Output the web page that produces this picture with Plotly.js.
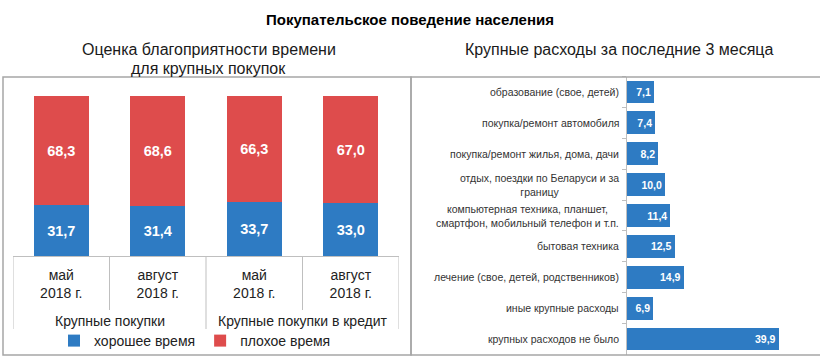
<!DOCTYPE html>
<html>
<head>
<meta charset="utf-8">
<script src="https://cdn.plot.ly/plotly-3.0.1.min.js"></script>
<style>html,body{margin:0;padding:0;background:#fff;}#chart{width:820px;height:357px;}</style>
</head>
<body>
<div id="chart"></div>
<script>
// ---- data ----
const groups = ["Крупные покупки", "Крупные покупки в кредит"];
const periods = ["май<br>2018 г.", "август<br>2018 г.", "май<br>2018 г.", "август<br>2018 г."];
const goodTime = [31.7, 31.4, 33.7, 33.0];
const badTime = [68.3, 68.6, 66.3, 67.0];
const seriesNames = ["хорошее время", "плохое время"];

const expenseCategories = [
  "образование (свое, детей)",
  "покупка/ремонт автомобиля",
  "покупка/ремонт жилья, дома, дачи",
  "отдых, поездки по Беларуси и за<br>границу",
  "компьютерная техника, планшет,<br>смартфон, мобильный телефон и т.п.",
  "бытовая техника",
  "лечение (свое, детей, родственников)",
  "иные крупные расходы",
  "крупных расходов не было"
];
const expenseValues = [7.1, 7.4, 8.2, 10.0, 11.4, 12.5, 14.9, 6.9, 39.9];

const mainTitle = "Покупательское поведение населения";
const leftTitle1 = "Оценка благоприятности времени";
const leftTitle2 = "для крупных покупок";
const rightTitle = "Крупные расходы за последние 3 месяца";

// ---- styling ----
const W = 820, H = 357;
const px = v => v / W;
const py = v => 1 - v / H;
const BLUE = "#2E7BC3";
const RED = "#DE4C4C";
const FONT = "Liberation Sans, Arial, sans-serif";
const GRID = "#bfbfbf";
const BOX = "#a6a6a6";

const xIdx = periods.map((_, i) => i);

const traces = [
  {
    type: "bar", name: seriesNames[0], x: xIdx, y: goodTime,
    xaxis: "x", yaxis: "y", width: 0.57,
    marker: {color: BLUE},
    texttemplate: "%{y:.1f}", textposition: "inside", insidetextanchor: "middle",
    textfont: {family: FONT, size: 14.5, color: "#fff", weight: "bold"},
    hoverinfo: "skip"
  },
  {
    type: "bar", name: seriesNames[1], x: xIdx, y: badTime,
    xaxis: "x", yaxis: "y", width: 0.57,
    marker: {color: RED},
    texttemplate: "%{y:.1f}", textposition: "inside", insidetextanchor: "middle",
    textfont: {family: FONT, size: 14.5, color: "#fff", weight: "bold"},
    hoverinfo: "skip"
  },
  {
    type: "bar", orientation: "h", name: "расходы", x: expenseValues, y: expenseCategories,
    xaxis: "x2", yaxis: "y2", width: 0.74, showlegend: false,
    marker: {color: BLUE},
    texttemplate: "%{x:.1f}", textposition: "inside", insidetextanchor: "end",
    textfont: {family: FONT, size: 10.5, color: "#fff", weight: "bold"},
    hoverinfo: "skip"
  }
];

const annotations = [
  {text: "<b>" + mainTitle + "</b>", xref: "paper", yref: "paper", x: px(410), y: py(19), showarrow: false,
   xanchor: "center", yanchor: "middle", font: {family: FONT, size: 15, color: "#000"}},
  {text: leftTitle1, xref: "paper", yref: "paper", x: px(208.5), y: py(50), showarrow: false,
   xanchor: "center", yanchor: "middle", font: {family: FONT, size: 16, color: "#1a1a1a"}},
  {text: leftTitle2, xref: "paper", yref: "paper", x: px(208.5), y: py(68), showarrow: false,
   xanchor: "center", yanchor: "middle", font: {family: FONT, size: 16, color: "#1a1a1a"}},
  {text: rightTitle, xref: "paper", yref: "paper", x: px(619), y: py(50), showarrow: false,
   xanchor: "center", yanchor: "middle", font: {family: FONT, size: 16, color: "#1a1a1a"}}
];
// group labels centred under each pair of periods
groups.forEach((g, gi) => {
  annotations.push({text: g, xref: "x", yref: "paper", x: gi * 2 + 0.5, y: py(321), showarrow: false,
    xanchor: "center", yanchor: "middle", font: {family: FONT, size: 14, color: "#222"}});
});
expenseCategories.forEach(c => {
  annotations.push({text: c, xref: "paper", yref: "y2", x: px(621), y: c, showarrow: false,
    xanchor: "right", yanchor: "middle", align: "center",
    font: {family: FONT, size: 10.5, color: "#333"}});
});

const shapes = [
  {type: "rect", xref: "paper", yref: "paper", x0: px(3), x1: px(411), y0: py(355), y1: py(77),
   line: {color: BOX, width: 1.5}},
  {type: "rect", xref: "paper", yref: "paper", x0: px(411), x1: px(830), y0: py(355), y1: py(77),
   line: {color: BOX, width: 1.5}}
];
// category table separators (between periods; longer at group edges)
for (let b = 0; b <= periods.length; b++) {
  const isGroupEdge = b % 2 === 0;
  shapes.push({type: "line", xref: "x", yref: "paper", x0: b - 0.5, x1: b - 0.5,
    y0: py(256), y1: py(isGroupEdge ? 329 : 310), line: {color: GRID, width: 1}});
}

const layout = {
  width: W, height: H,
  margin: {l: 0, r: 0, t: 0, b: 0},
  paper_bgcolor: "#fff", plot_bgcolor: "rgba(0,0,0,0)",
  barmode: "stack",
  separators: ", ",
  font: {family: FONT, color: "#222"},
  showlegend: true,
  legend: {orientation: "h", x: px(195), xanchor: "center", y: py(341), yanchor: "middle",
           font: {family: FONT, size: 14, color: "#222"}, itemwidth: 30, traceorder: "normal",
           bgcolor: "rgba(0,0,0,0)"},
  xaxis: {
    domain: [px(13), px(399)], range: [-0.5, periods.length - 0.5],
    tickvals: xIdx, ticktext: periods, ticks: "", ticklabelstandoff: 6,
    showline: true, linecolor: GRID, linewidth: 1, showgrid: false, zeroline: false,
    tickfont: {family: FONT, size: 14, color: "#222"},
    fixedrange: true
  },
  yaxis: {
    domain: [py(256), py(96)], range: [0, 100], visible: false, fixedrange: true
  },
  xaxis2: {
    domain: [px(627), 1], range: [0, 193 / 3.8], visible: false, anchor: "y2", fixedrange: true
  },
  yaxis2: {
    domain: [py(354.5), py(76.6)], anchor: "x2", type: "category", autorange: "reversed",
    showline: true, linecolor: GRID, linewidth: 1,
    ticks: "outside", tickson: "boundaries", ticklen: 4, tickcolor: GRID,
    showticklabels: false, showgrid: false, fixedrange: true
  },
  shapes: shapes,
  annotations: annotations
};

Plotly.newPlot("chart", traces, layout, {displayModeBar: false, staticPlot: true});
</script>
</body>
</html>
